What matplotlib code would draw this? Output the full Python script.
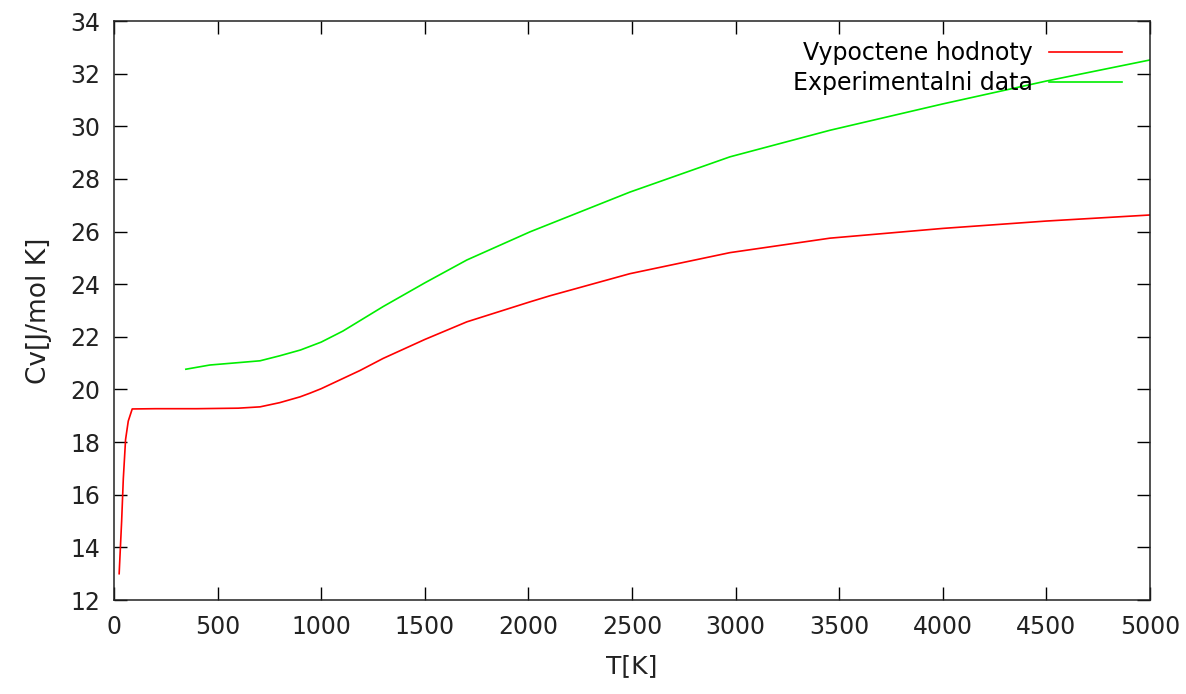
import matplotlib
matplotlib.use("Agg")
import matplotlib.pyplot as plt

# computed Cv values
calc_T = [25, 37, 45, 56, 69, 88, 200, 400, 600, 705, 800, 898, 946, 1000,
          1187, 1299, 1500, 1703, 2008, 2104, 2490, 2973, 3456, 4000, 4500, 5000]
calc_cv = [13.0, 15.0, 16.6, 18.1, 18.8, 19.26, 19.27, 19.27, 19.29, 19.34, 19.5,
           19.72, 19.86, 20.03, 20.72, 21.18, 21.9, 22.57, 23.33, 23.56, 24.4,
           25.2, 25.75, 26.12, 26.4, 26.63]

# experimental Cv values
exp_T = [347, 463, 600, 705, 800, 900, 1000, 1105, 1299, 1500, 1703, 2008,
         2490, 2973, 3456, 4000, 4500, 5000]
exp_cv = [20.77, 20.93, 21.02, 21.09, 21.28, 21.5, 21.8, 22.22, 23.15, 24.05,
          24.92, 25.99, 27.5, 28.84, 29.85, 30.85, 31.72, 32.52]

x_ticks = [0, 500, 1000, 1500, 2000, 2500, 3000, 3500, 4000, 4500, 5000]
y_ticks = [12, 14, 16, 18, 20, 22, 24, 26, 28, 30, 32, 34]

plt.rcParams['font.family'] = 'DejaVu Sans'
plt.rcParams['font.size'] = 17

fig = plt.figure(figsize=(11.86, 6.94), dpi=100)
ax = fig.add_axes([0.0961, 0.1354, 0.8735, 0.8343])

ax.plot(calc_T, calc_cv, '-', color='#ff0000', lw=1.2, label='Vypoctene hodnoty')
ax.plot(exp_T, exp_cv, '-', color='#00ee00', lw=1.2, label='Experimentalni data')

ax.set_xlim(0, 5000)
ax.set_ylim(12, 34)
ax.set_xticks(x_ticks)
ax.set_yticks(y_ticks)
ax.tick_params(direction='in', length=9.5, width=1.0, top=True, right=True,
               colors='black', labelcolor='#222222')
ax.tick_params(axis='x', pad=11)
ax.tick_params(axis='y', pad=10)
for s in ax.spines.values():
    s.set_linewidth(1.1)
    s.set_color('#222222')

ax.set_xlabel('T[K]', labelpad=11, color='#222222', fontsize=18)
ax.set_ylabel('Cv[J/mol K]', labelpad=13, color='#222222', fontsize=19)

ax.legend(loc='upper right', frameon=False, markerfirst=False,
          handlelength=3.1, handletextpad=0.7, labelspacing=0.24,
          bbox_to_anchor=(0.98, 0.977), borderaxespad=0, borderpad=0.3)

fig.savefig('out.png', dpi=100)
